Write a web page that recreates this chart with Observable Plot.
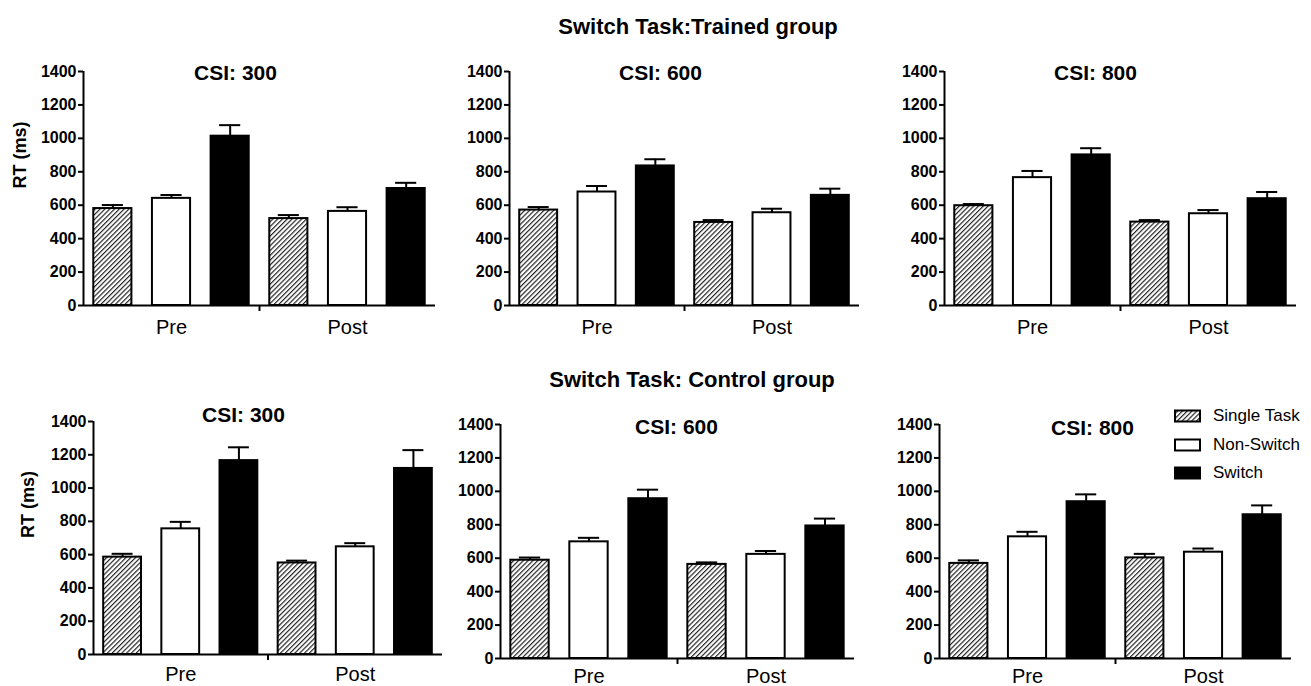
<!DOCTYPE html>
<html><head><meta charset="utf-8">
<script src="https://cdn.jsdelivr.net/npm/d3@7"></script>
<script src="https://cdn.jsdelivr.net/npm/@observablehq/plot@0.6"></script>
<style>
html,body{margin:0;padding:0;background:#fff;}
#root{position:relative;width:1311px;height:686px;overflow:hidden;font-family:"Liberation Sans",Arial,sans-serif;color:#000;}
.panel{position:absolute;}
.gtitle{position:absolute;font-weight:bold;font-size:22px;white-space:nowrap;transform:translate(-50%,-50%);}
.legend{position:absolute;left:1174px;top:402px;font-size:17px;}
.legend .row{display:flex;align-items:center;height:28.5px;}
.legend svg{margin-right:12px;}
</style></head><body><div id="root"></div>
<script>
// ---- data ----
const sessions = ["Pre", "Post"];
const conditions = ["Single Task", "Non-Switch", "Switch"];
const csiLabels = ["CSI: 300", "CSI: 600", "CSI: 800"];
const groupTitles = ["Switch Task:Trained group", "Switch Task: Control group"];
const yTicks = [0, 200, 400, 600, 800, 1000, 1200, 1400];
// order: Pre (Single, Non-Switch, Switch), Post (Single, Non-Switch, Switch)
const trained300Mean = [580, 641, 1013, 520, 563, 700];
const trained300SE   = [21, 20, 66, 21, 25, 34];
const trained600Mean = [571, 679, 835, 497, 555, 659];
const trained600SE   = [18, 36, 40, 14, 24, 40];
const trained800Mean = [597, 765, 901, 499, 549, 639];
const trained800SE   = [10, 40, 40, 12, 22, 40];
const control300Mean = [585, 755, 1165, 550, 647, 1118];
const control300SE   = [20, 42, 80, 14, 22, 110];
const control600Mean = [588, 698, 956, 563, 623, 793];
const control600SE   = [16, 24, 54, 12, 20, 44];
const control800Mean = [569, 728, 938, 602, 636, 860];
const control800SE   = [18, 30, 44, 24, 22, 56];

const seriesMeans = [trained300Mean, trained600Mean, trained800Mean, control300Mean, control600Mean, control800Mean];
const seriesSE = [trained300SE, trained600SE, trained800SE, control300SE, control600SE, control800SE];

// ---- layout (page pixels) ----
const layout = [
  {col:0, ax:83,  ex:435,  ty:71,  by:305, tx:235,  tyT:73,  lx:20, pad:14},
  {col:1, ax:509, ex:859,  ty:71,  by:305, tx:660,  tyT:73,  pad:14},
  {col:2, ax:944, ex:1296, ty:71,  by:305, tx:1095, tyT:73,  pad:14},
  {col:0, ax:93,  ex:442,  ty:421, by:654, tx:243,  tyT:415, lx:28, pad:12},
  {col:1, ax:500, ex:854,  ty:424, by:658, tx:676,  tyT:427, pad:10},
  {col:2, ax:939, ex:1291, ty:424, by:658, tx:1092, tyT:428, pad:10}
];

const root = document.getElementById("root");
const font = '"Liberation Sans", Arial, sans-serif';
const hatchPattern = (id) => `<pattern id="${id}" patternUnits="userSpaceOnUse" width="3.4" height="3.4" patternTransform="rotate(45)"><rect width="3.4" height="3.4" fill="white"/><line x1="0.6" y1="0" x2="0.6" y2="3.4" stroke="#111" stroke-width="1.1"/></pattern>`;

function hatchDefs(id) {
  return () => {
    const d = d3.create("svg:defs");
    d.html(hatchPattern(id));
    return d.node();
  };
}

seriesMeans.forEach((means, k) => {
  const cfg = layout[k];
  const ses = seriesSE[k];
  const rows = means.map((m, i) => ({i, session: sessions[Math.floor(i / 3)], condition: conditions[i % 3], mean: m, se: ses[i]}));
  const pid = "hatch" + k;
  const fills = {"Single Task": `url(#${pid})`, "Non-Switch": "white", "Switch": "black"};
  const L = 75, T = 40, R = 10, B = 34;
  const width = cfg.ex - cfg.ax + L + R;
  const height = cfg.by - cfg.ty + T + B;
  const center = (cfg.ax + cfg.ex) / 2;
  const marks = [
    hatchDefs(pid),
    Plot.ruleX(rows, {x: "i", y1: "mean", y2: d => d.mean + d.se, stroke: "black", strokeWidth: 2}),
    Plot.ruleY(rows, {y: d => d.mean + d.se, x1: d => d.i - 0.18, x2: d => d.i + 0.18, stroke: "black", strokeWidth: 2}),
    ...conditions.map(c => Plot.rectY(rows.filter(r => r.condition === c), {
      x1: d => d.i - 0.325, x2: d => d.i + 0.325, y1: 0, y2: "mean",
      fill: fills[c], stroke: "black", strokeWidth: 2
    })),
    Plot.ruleY([0], {stroke: "black", strokeWidth: 2}),
    Plot.ruleX([-0.5], {y1: 0, y2: 1400, stroke: "black", strokeWidth: 2}),
    Plot.axisY({ticks: yTicks, tickSize: 5, tickPadding: 2, fontSize: 16, fontWeight: "bold", label: null, strokeWidth: 2, tickFormat: d => String(d)}),
    Plot.axisX({ticks: [2.5], tickSize: 6, tickFormat: () => "", label: null, strokeWidth: 2}),
    Plot.axisX({ticks: [1, 4], tickSize: 0, tickPadding: cfg.pad, fontSize: 20, label: null, tickFormat: d => sessions[(d - 1) / 3]}),
    Plot.text([csiLabels[k % 3]], {frameAnchor: "top", dx: cfg.tx - center, dy: cfg.tyT - cfg.ty, fontSize: 21, fontWeight: "bold", lineAnchor: "middle"})
  ];
  if (cfg.col === 0) {
    marks.push(Plot.text(["RT (ms)"], {frameAnchor: "left", dx: -(cfg.ax - cfg.lx), rotate: -90, fontSize: 18, fontWeight: "bold"}));
  }
  const plot = Plot.plot({
    width, height, marginLeft: L, marginRight: R, marginTop: T, marginBottom: B,
    x: {type: "linear", domain: [-0.5, 5.5], axis: null},
    y: {domain: [0, 1400], axis: null},
    style: {fontFamily: font, color: "black", background: "transparent", overflow: "visible"},
    marks
  });
  const wrap = document.createElement("div");
  wrap.className = "panel";
  wrap.style.left = (cfg.ax - L) + "px";
  wrap.style.top = (cfg.ty - T) + "px";
  wrap.appendChild(plot);
  root.appendChild(wrap);
});

// group titles
[[698, 27], [692, 380]].forEach(([x, y], g) => {
  const el = document.createElement("div");
  el.className = "gtitle";
  el.style.left = x + "px";
  el.style.top = y + "px";
  el.textContent = groupTitles[g];
  root.appendChild(el);
});

// legend
const legend = document.createElement("div");
legend.className = "legend";
conditions.forEach((c, i) => {
  const row = document.createElement("div");
  row.className = "row";
  const fill = i === 0 ? "url(#hatchLegend)" : (i === 1 ? "white" : "black");
  row.innerHTML = `<svg width="27" height="14">${i === 0 ? `<defs>${hatchPattern("hatchLegend")}</defs>` : ""}<rect x="1" y="1.5" width="25" height="11" fill="${fill}" stroke="black" stroke-width="2"/></svg><span>${c}</span>`;
  legend.appendChild(row);
});
root.appendChild(legend);
</script>
</body></html>
